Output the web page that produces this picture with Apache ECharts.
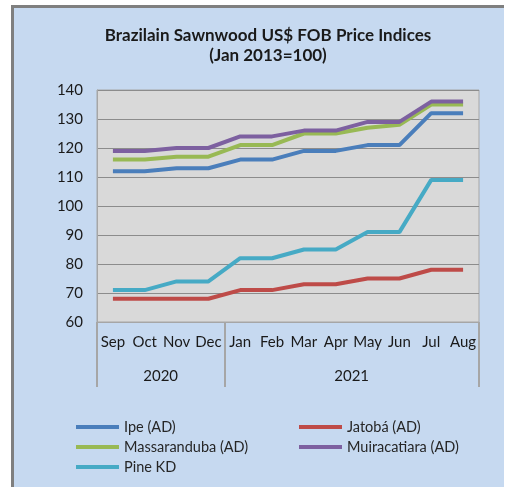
<!DOCTYPE html>
<html>
<head>
<meta charset="utf-8">
<script src="https://cdn.jsdelivr.net/npm/echarts@6/dist/echarts.min.js"></script>
<style>
  html, body { margin: 0; padding: 0; background: #ffffff; overflow: hidden; }
  #chart { position: absolute; left: 0; top: 0; width: 506px; height: 487px; }
</style>
</head>
<body>
<div id="chart"></div>
<script>
const months = ['Sep','Oct','Nov','Dec','Jan','Feb','Mar','Apr','May','Jun','Jul','Aug'];
const years = ['2020','2021'];
const yearMonthCounts = [4, 8];
const yTicks = [60, 140, 10];

const ipe          = [112,112,113,113,116,116,119,119,121,121,132,132];
const jatoba       = [68,68,68,68,71,71,73,73,75,75,78,78];
const massaranduba = [116,116,117,117,121,121,125,125,127,128,135,135];
const muiracatiara = [119,119,120,120,124,124,126,126,129,129,136,136];
const pineKD       = [71,71,74,74,82,82,85,85,91,91,109,109];

const seriesNames = ['Ipe (AD)','Jatobá (AD)','Massaranduba (AD)','Muiracatiara (AD)','Pine KD'];
const seriesData = [ipe, jatoba, massaranduba, muiracatiara, pineKD];
const colors = ['#4a7ebb','#be4b48','#98b954','#7d60a0','#46aac5'];

const boundaries = [0];
const yearCenters = {};
let acc = 0;
yearMonthCounts.forEach((c, i) => { yearCenters[acc + c / 2] = years[i]; acc += c; boundaries.push(acc); });

const font = 'Lato, "Open Sans", sans-serif';
const chart = echarts.init(document.getElementById('chart'), null, { renderer: 'canvas' });
const legendCommon = {
  orient: 'vertical', top: 419, height: 66, icon: 'rect',
  itemWidth: 43, itemHeight: 4, itemGap: 4, padding: 0,
  textStyle: { fontFamily: font, fontSize: 14.5, lineHeight: 16, color: '#262626' }
};
chart.setOption({
  backgroundColor: '#ffffff',
  animation: false,
  color: colors,
  graphic: [
    { type: 'rect', z: -10, silent: true, shape: { x: 11, y: 5, width: 493, height: 482 },
      style: { fill: '#c6d9f0' } },
    { type: 'rect', z: -9, silent: true, shape: { x: 11, y: 5, width: 3, height: 482 },
      style: { fill: '#7f7f7f' } },
    { type: 'rect', z: -9, silent: true, shape: { x: 11, y: 5, width: 493, height: 3 },
      style: { fill: '#7f7f7f' } }
  ],
  title: {
    text: 'Brazilain Sawnwood US$ FOB Price Indices\n(Jan 2013=100)',
    left: 263, top: 21, textAlign: 'center',
    textStyle: { fontFamily: font, fontWeight: 'bold', fontSize: 17, lineHeight: 20, color: '#1a1a1a' }
  },
  grid: { left: 97, top: 90, right: 27, bottom: 165, show: true,
          backgroundColor: '#d9d9d9', borderColor: '#a6a6a6', borderWidth: 1 },
  legend: [
    Object.assign({ data: [seriesNames[0], seriesNames[2], seriesNames[4]], left: 76 }, legendCommon),
    Object.assign({ data: [seriesNames[1], seriesNames[3]], left: 299 }, legendCommon)
  ],
  xAxis: [
    { type: 'category', data: months, boundaryGap: true, position: 'bottom',
      axisLine: { show: true, lineStyle: { color: '#a6a6a6', width: 1 } },
      axisTick: { show: true, length: 65, interval: (i) => boundaries.indexOf(i) >= 0,
                  lineStyle: { color: '#a6a6a6', width: 2 } },
      axisLabel: { interval: 0, margin: 13, fontFamily: font, fontSize: 15, color: '#1a1a1a' },
      splitLine: { show: false } },
    { type: 'value', min: 0, max: months.length, interval: 0.5, position: 'bottom',
      axisLine: { show: false }, axisTick: { show: false }, splitLine: { show: false },
      axisLabel: { margin: 47, fontFamily: font, fontSize: 15, color: '#1a1a1a',
                   formatter: (v) => yearCenters[v] || '' } }
  ],
  yAxis: {
    type: 'value', min: yTicks[0], max: yTicks[1], interval: yTicks[2],
    axisLine: { show: true, lineStyle: { color: '#a6a6a6' } },
    axisTick: { show: false },
    axisLabel: { margin: 14, fontFamily: font, fontSize: 15, color: '#1a1a1a' },
    splitLine: { show: true, lineStyle: { color: '#8c8c8c', width: 1 } }
  },
  series: seriesNames.map((n, i) => ({
    name: n, type: 'line', data: seriesData[i], symbol: 'none', smooth: false,
    lineStyle: { width: 4, color: colors[i] }, itemStyle: { color: colors[i] }
  }))
});
</script>
</body>
</html>
